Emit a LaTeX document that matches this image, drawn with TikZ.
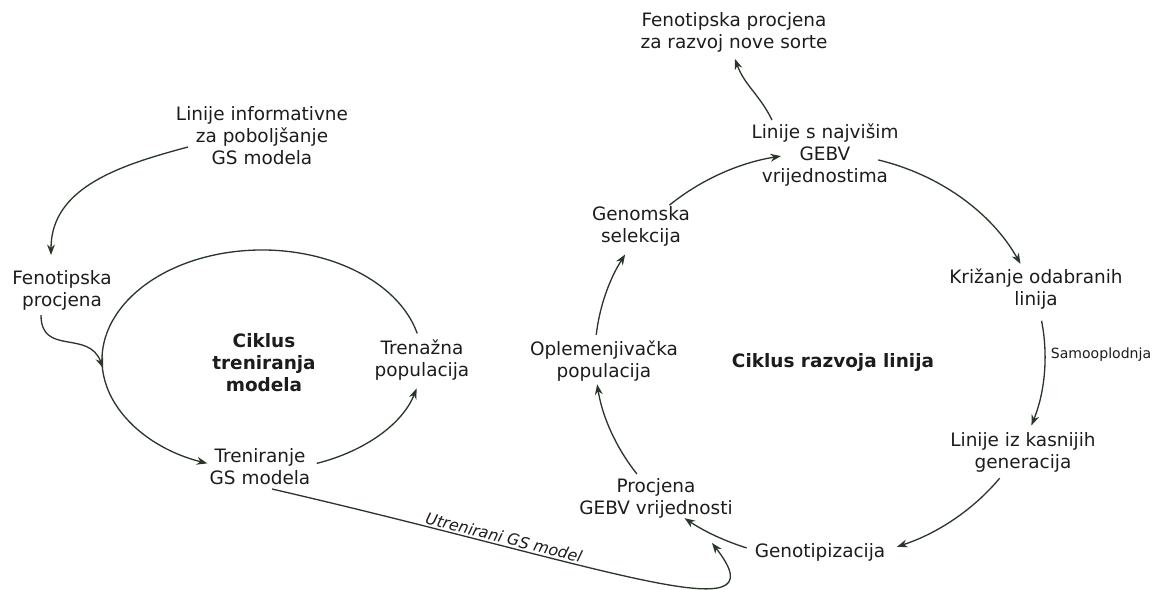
\documentclass[tikz,border=0pt]{standalone}
\usepackage{fontspec}
\setmainfont{DejaVu Sans}
\usetikzlibrary{arrows.meta,calc}

\definecolor{linec}{RGB}{42,54,42}
\definecolor{textc}{RGB}{28,28,28}

\tikzset{
    lbl/.style={align=center, text=textc, inner sep=1pt,
        font=\fontsize{10.5}{12.5}\selectfont},
    cyc/.style={lbl, font=\fontsize{10.5}{12.5}\selectfont\bfseries},
    small/.style={text=textc, inner sep=1pt, font=\fontsize{8}{10}\selectfont},
    flow/.style={draw=linec, line width=0.75pt,
        -{Stealth[length=6pt,width=4.5pt]}},
}

\begin{document}
\begin{tikzpicture}[x=0.02cm, y=0.02cm]
    \useasboundingbox (0,0) rectangle (1161,-589);

    % left cycle: training of the GS model
    \coordinate (lc) at (262,-360);
    \coordinate (ringin) at (103,-368);
    \node[lbl] (linf) at (262,-136) {Linije informativne\\za poboljšanje\\GS modela};
    \node[lbl] (fenl) at (62,-290) {Fenotipska\\procjena};
    \node[cyc] (ctm) at (264,-363) {Ciklus\\treniranja\\modela};
    \node[lbl] (trenaz) at (422,-360) {Trenažna\\populacija};
    \node[lbl] (trenir) at (260,-467) {Treniranje\\GS modela};

    \draw[flow] (lc) ++(14:160 and 110)
        arc[start angle=14, end angle=250, x radius=160, y radius=110];
    \draw[flow] (lc) ++(290:160 and 110)
        arc[start angle=290, end angle=345, x radius=160, y radius=110];

    \draw[flow] ($(linf)+(-74,-11)$) to[out=195, in=90] ($(fenl)+(-11,35)$);
    \draw[flow] ($(fenl)+(-21,-25)$) to[out=-90, in=110, looseness=1.3] (ringin);

    % right cycle: development of lines
    \coordinate (rc) at (820,-356);
    \node[cyc] (crl) at (833,-362) {Ciklus razvoja linija};
    \node[lbl] (fenr) at (734,-32) {Fenotipska procjena\\za razvoj nove sorte};
    \node[lbl] (lnaj) at (825,-155) {Linije s najvišim\\GEBV\\vrijednostima};
    \node[lbl] (genom) at (641,-226) {Genomska\\selekcija};
    \node[lbl] (oplem) at (604,-361) {Oplemenjivačka\\populacija};
    \node[lbl] (procj) at (656,-498) {Procjena\\GEBV vrijednosti};
    \node[lbl] (genot) at (820,-552) {Genotipizacija};
    \node[lbl] (kriz) at (1036,-289) {Križanje odabranih\\linija};
    \node[lbl] (kasn) at (1023,-452) {Linije iz kasnijih\\generacija};
    \node[small] (samo) at (1101,-355) {Samooplodnja};

    % arcs of the ring, clockwise
    \foreach \a/\b in {132/100, 75/27, 10/-20, -37/-70, -109/-127, 215.5/188, 174/150} {
        \draw[flow] (rc) ++(\a:225 and 203)
            arc[start angle=\a, end angle=\b, x radius=225, y radius=203];
    }

    \draw[flow] ($(lnaj)+(-53,35)$) to[out=116, in=-70] ($(fenr)+(1,-27)$);

    % trained model goes over to the estimation
    \draw[flow] ($(trenir)+(12,-22)$) .. controls +(-13:340) and +(-52:118) .. ($(procj)+(56,-45)$)
        node[pos=0.265, sloped, above, text=textc, inner sep=1pt,
            font=\fontsize{9}{11}\selectfont\itshape] (utren) {Utrenirani GS model};
\end{tikzpicture}
\end{document}
